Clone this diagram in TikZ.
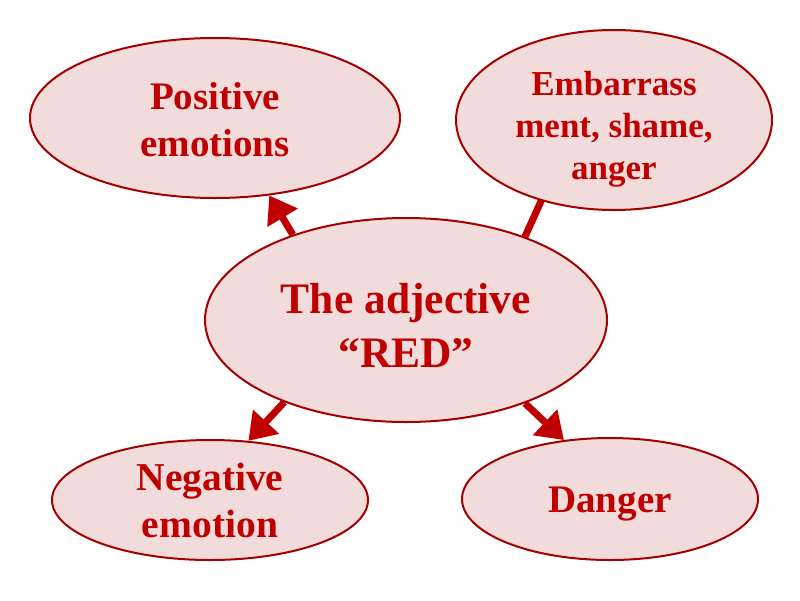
\documentclass[tikz,border=0pt]{standalone}
\usepackage{fontspec}
\setmainfont{Liberation Serif}
\usetikzlibrary{shapes.geometric,arrows.meta,backgrounds}
\definecolor{redtxt}{HTML}{C00000}
\definecolor{redline}{HTML}{A50000}
\definecolor{pinkfill}{HTML}{F2DCDB}
\tikzset{
  bubble/.style={ellipse,draw=redline,line width=2pt,fill=pinkfill,inner sep=0pt},
  label text/.style={text=redtxt,align=center,inner sep=0pt},
  link/.style={draw=redtxt,line width=7pt,-{Triangle[length=26pt,width=34pt]}}
}
\begin{document}
\begin{tikzpicture}[x=1pt,y=-1pt]
\useasboundingbox (0,0) rectangle (800,600);
\node[bubble,minimum width=370pt,minimum height=160pt] (pos) at (215,118) {};
\node[bubble,minimum width=316pt,minimum height=180pt] (emb) at (614,120) {};
\node[bubble,minimum width=402pt,minimum height=204pt] (adj) at (406,320) {};
\node[bubble,minimum width=316pt,minimum height=120pt] (neg) at (210,500) {};
\node[bubble,minimum width=296pt,minimum height=122pt] (dan) at (610,499) {};
\node[label text,font=\bfseries\fontsize{39}{47}\selectfont] (postext) at (215,120) {Positive\\emotions};
\node[label text,font=\bfseries\fontsize{35}{42}\selectfont] (embtext) at (614,129) {Embarrass\\ment, shame,\\anger};
\node[label text,font=\bfseries\fontsize{43.5}{54}\selectfont] (adjtext) at (406,325) {The adjective\\“RED”};
\node[label text,font=\bfseries\fontsize{39.5}{47}\selectfont] (negtext) at (210,500) {Negative\\emotion};
\node[label text,font=\bfseries\fontsize{39}{47}\selectfont] (dantext) at (610,504) {Danger};
\begin{scope}[on background layer]
\draw[link] (adj.143) -- (pos.-55);
\draw[link,shorten >=-32pt] (adj.35) -- (emb.-132);
\draw[link] (adj.214) -- (neg.57);
\draw[link] (adj.-35) -- (dan.128.5);
\end{scope}
\end{tikzpicture}
\end{document}
